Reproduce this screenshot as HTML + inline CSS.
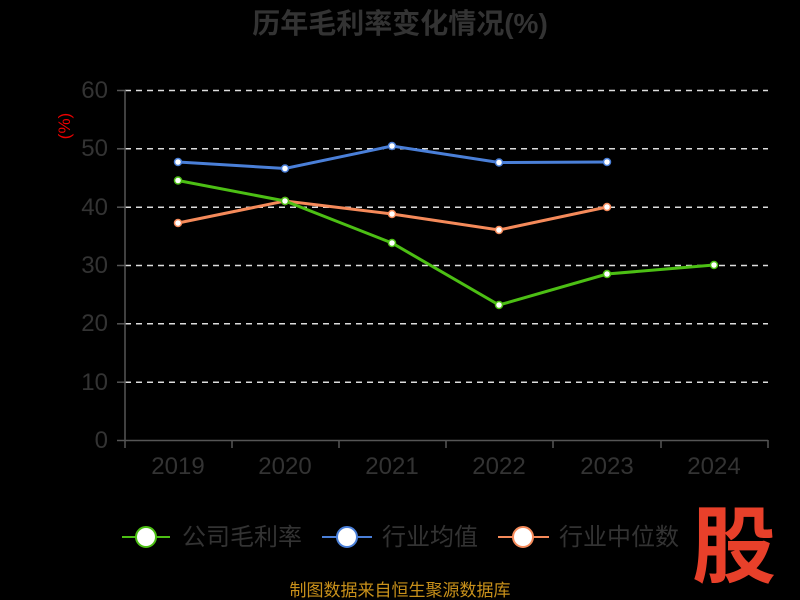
<!DOCTYPE html><html><head><meta charset="utf-8"><style>body{margin:0;background:#000}svg{display:block}text{font-family:"Liberation Sans","Noto Sans CJK SC",sans-serif}</style></head><body>
<svg width="800" height="600" viewBox="0 0 800 600">
<rect width="800" height="600" fill="#000"/>
<text x="400" y="33" text-anchor="middle" font-size="28" font-weight="bold" fill="#333">历年毛利率变化情况(%)</text>
<text transform="translate(70,126) rotate(-90)" text-anchor="middle" font-size="17" fill="#e00">(%)</text>
<g stroke="#ddd" stroke-width="1.5" stroke-dasharray="6,5">
<line x1="125" y1="90.5" x2="768" y2="90.5"/><line x1="125" y1="148.8" x2="768" y2="148.8"/><line x1="125" y1="207.2" x2="768" y2="207.2"/><line x1="125" y1="265.5" x2="768" y2="265.5"/><line x1="125" y1="323.8" x2="768" y2="323.8"/><line x1="125" y1="382.2" x2="768" y2="382.2"/></g>
<g stroke="#555" stroke-width="1.5"><line x1="125" y1="90" x2="125" y2="441"/><line x1="125" y1="440.5" x2="768" y2="440.5"/>
<line x1="117" y1="90.5" x2="125" y2="90.5"/><line x1="117" y1="148.8" x2="125" y2="148.8"/><line x1="117" y1="207.2" x2="125" y2="207.2"/><line x1="117" y1="265.5" x2="125" y2="265.5"/><line x1="117" y1="323.8" x2="125" y2="323.8"/><line x1="117" y1="382.2" x2="125" y2="382.2"/><line x1="117" y1="440.5" x2="125" y2="440.5"/>
<line x1="125" y1="440" x2="125" y2="448"/><line x1="232" y1="440" x2="232" y2="448"/><line x1="339" y1="440" x2="339" y2="448"/><line x1="446" y1="440" x2="446" y2="448"/><line x1="553" y1="440" x2="553" y2="448"/><line x1="661" y1="440" x2="661" y2="448"/><line x1="768" y1="440" x2="768" y2="448"/></g>
<g font-size="24" fill="#333" text-anchor="end"><text x="108" y="98">60</text><text x="108" y="156">50</text><text x="108" y="215">40</text><text x="108" y="273">30</text><text x="108" y="331">20</text><text x="108" y="390">10</text><text x="108" y="448">0</text></g>
<g font-size="24" fill="#333" text-anchor="middle"><text x="178" y="474">2019</text><text x="285" y="474">2020</text><text x="392" y="474">2021</text><text x="499" y="474">2022</text><text x="607" y="474">2023</text><text x="714" y="474">2024</text></g>
<polyline fill="none" stroke="#4a7fd8" stroke-width="3" points="178,162 285,168.5 392,146 499,162.5 607,162"/>
<polyline fill="none" stroke="#f58a5a" stroke-width="3" points="178,223 285,201 392,214 499,230 607,207"/>
<polyline fill="none" stroke="#4cbf14" stroke-width="3" points="178,180.5 285,201 392,243 499,305 607,274 714,265"/>
<g fill="#fff" stroke-width="1.5">
<g stroke="#4a7fd8"><circle cx="178" cy="162" r="3.5"/><circle cx="285" cy="168.5" r="3.5"/><circle cx="392" cy="146" r="3.5"/><circle cx="499" cy="162.5" r="3.5"/><circle cx="607" cy="162" r="3.5"/></g>
<g stroke="#f58a5a"><circle cx="178" cy="223" r="3.5"/><circle cx="285" cy="201" r="3.5"/><circle cx="392" cy="214" r="3.5"/><circle cx="499" cy="230" r="3.5"/><circle cx="607" cy="207" r="3.5"/></g>
<g stroke="#4cbf14"><circle cx="178" cy="180.5" r="3.5"/><circle cx="285" cy="201" r="3.5"/><circle cx="392" cy="243" r="3.5"/><circle cx="499" cy="305" r="3.5"/><circle cx="607" cy="274" r="3.5"/><circle cx="714" cy="265" r="3.5"/></g></g>
<g stroke-width="2"><line x1="122" y1="537" x2="170" y2="537" stroke="#4cbf14"/><circle cx="146" cy="537" r="10" fill="#fff" stroke="#4cbf14"/>
<line x1="322" y1="537" x2="372" y2="537" stroke="#4a7fd8"/><circle cx="347" cy="537" r="10" fill="#fff" stroke="#4a7fd8"/>
<line x1="498" y1="537" x2="549" y2="537" stroke="#f58a5a"/><circle cx="523" cy="537" r="10" fill="#fff" stroke="#f58a5a"/></g>
<g font-size="24" fill="#333"><text x="182" y="545">公司毛利率</text><text x="382" y="545">行业均值</text><text x="559" y="545">行业中位数</text></g>
<text x="400" y="596" text-anchor="middle" font-size="17" fill="#c8901a">制图数据来自恒生聚源数据库</text>
<text x="734" y="576" text-anchor="middle" font-size="84" font-weight="bold" fill="#e8402a">股</text>
</svg></body></html>
